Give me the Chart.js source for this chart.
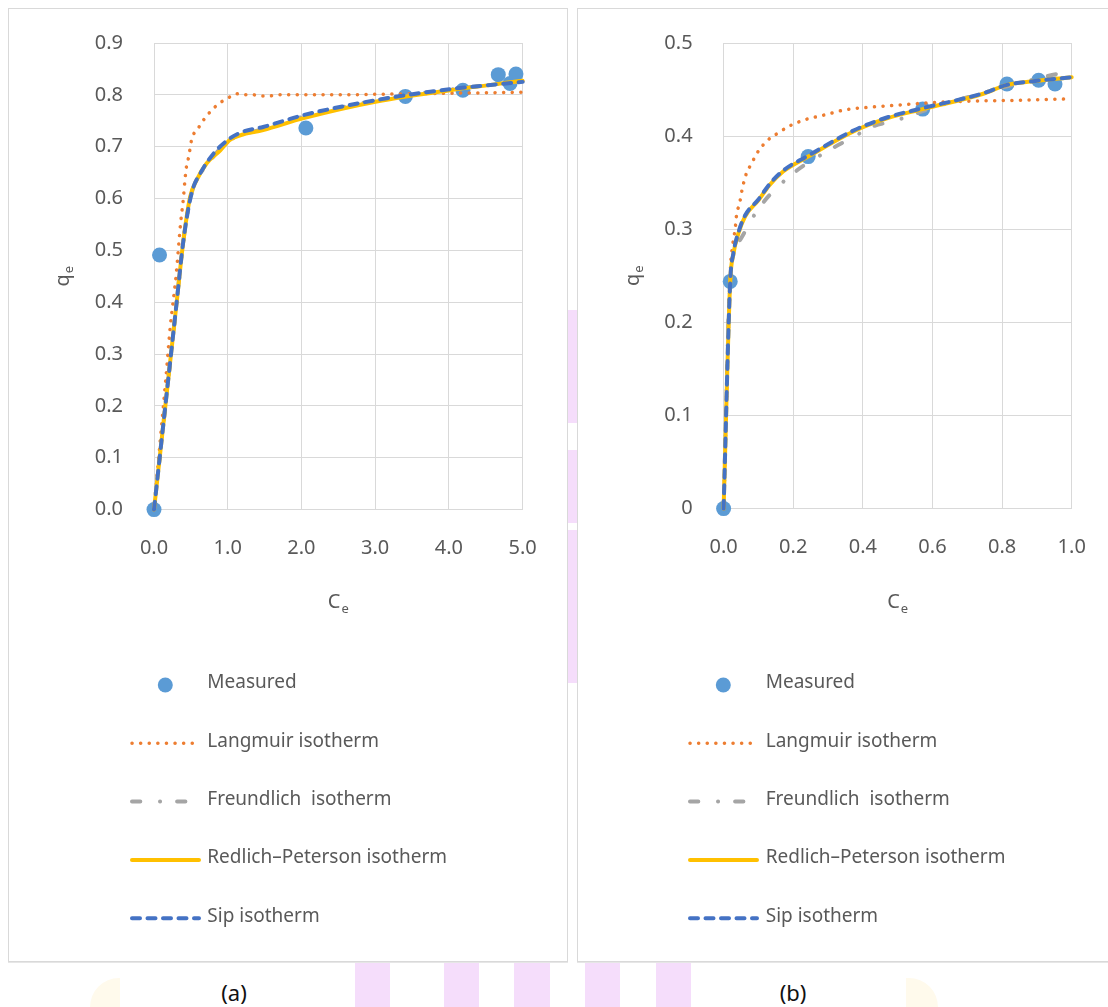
<!DOCTYPE html>
<html><head><meta charset="utf-8">
<script src="https://cdn.jsdelivr.net/npm/chart.js@4.4.1/dist/chart.umd.min.js"></script>
<style>
html,body{margin:0;padding:0;background:#fff;width:1108px;height:1007px;overflow:hidden;position:relative;font-family:"Noto Sans",sans-serif;}
.wm{position:absolute;background:#f5ddfb;}
.wy{position:absolute;background:#fffaec;}
.panel{position:absolute;top:8px;width:558px;height:952px;border:1px solid #d9d9d9;background:#fff;box-shadow:0 1px 0 #e6e6e6;}
.panel canvas{display:block;}
.cap{position:absolute;top:977px;font-size:22px;color:#111;width:60px;text-align:center;line-height:30px;}
</style></head><body>
<div class="wm" style="left:567px;top:310px;width:10px;height:113px"></div>
<div class="wm" style="left:567px;top:450px;width:10px;height:73px"></div>
<div class="wm" style="left:567px;top:530px;width:10px;height:153px"></div>
<div class="wm" style="left:355px;top:961px;width:35px;height:46px"></div>
<div class="wm" style="left:444px;top:961px;width:35px;height:46px"></div>
<div class="wm" style="left:514px;top:961px;width:36px;height:46px"></div>
<div class="wm" style="left:585px;top:961px;width:35px;height:46px"></div>
<div class="wm" style="left:656px;top:961px;width:35px;height:46px"></div>
<div class="wy" style="left:90px;top:978px;width:30px;height:29px;border-top-left-radius:30px"></div>
<div class="wy" style="left:906px;top:978px;width:32px;height:29px;border-top-right-radius:30px"></div>
<div class="panel" style="left:8px"><canvas id="ca" width="558" height="952"></canvas></div>
<div class="panel" style="left:577px"><canvas id="cb" width="558" height="952"></canvas></div>
<div class="cap" style="left:204px">(a)</div>
<div class="cap" style="left:763px">(b)</div>
<script>
// ---------- series names ----------
const seriesNames = ['Measured', 'Langmuir isotherm', 'Freundlich  isotherm', 'Redlich\u2013Peterson isotherm', 'Sip isotherm'];

// ---------- panel (a) ----------
const measuredCeA = [0, 0.075, 2.06, 3.41, 4.19, 4.67, 4.83, 4.91];
const measuredQeA = [0, 0.491, 0.736, 0.797, 0.809, 0.839, 0.822, 0.840];

const langmuirCeA = [0, 0.08, 0.16, 0.22, 0.30, 0.36, 0.40, 0.42, 0.44, 0.47, 0.51, 0.61, 0.68, 0.76, 0.83, 0.92, 1.03, 1.12, 1.24, 1.35, 1.46, 1.57, 1.69, 2.0, 2.5, 3.0, 3.5, 4.0, 4.5, 5.0];
const langmuirQeA = [0, 0.126, 0.252, 0.352, 0.452, 0.551, 0.603, 0.636, 0.661, 0.680, 0.713, 0.738, 0.753, 0.767, 0.777, 0.787, 0.796, 0.802, 0.800, 0.800, 0.798, 0.798, 0.800, 0.800, 0.800, 0.801, 0.802, 0.803, 0.804, 0.805];

const freundlichCeA = [0, 0.1, 0.2, 0.3, 0.4, 0.5, 0.6, 0.8, 1.0, 1.5, 2.0, 3.0, 4.0, 5.0];
const freundlichQeA = [0, 0.13, 0.26, 0.39, 0.52, 0.605, 0.64, 0.68, 0.71, 0.735, 0.757, 0.789, 0.810, 0.826];

const redlichCeA = [0, 0.1, 0.2, 0.3, 0.4, 0.49, 0.58, 0.715, 0.90, 1.03, 1.17, 1.48, 2.03, 3.02, 4.02, 5.0];
const redlichQeA = [0, 0.13, 0.26, 0.39, 0.52, 0.603, 0.636, 0.668, 0.693, 0.713, 0.722, 0.732, 0.755, 0.787, 0.809, 0.827];

const sipCeA = [0, 0.1, 0.2, 0.3, 0.4, 0.51, 0.63, 0.81, 1.03, 1.21, 1.48, 2.03, 3.02, 4.02, 5.0];
const sipQeA = [0, 0.13, 0.26, 0.39, 0.52, 0.61, 0.649, 0.687, 0.716, 0.729, 0.738, 0.761, 0.790, 0.811, 0.825];

const xTickValuesA = [0, 1, 2, 3, 4, 5];
const xTickLabelsA = ['0.0', '1.0', '2.0', '3.0', '4.0', '5.0'];
const yTickValuesA = [0, 0.1, 0.2, 0.3, 0.4, 0.5, 0.6, 0.7, 0.8, 0.9];
const yTickLabelsA = ['0.0', '0.1', '0.2', '0.3', '0.4', '0.5', '0.6', '0.7', '0.8', '0.9'];

// ---------- panel (b) ----------
const measuredCeB = [0, 0.019, 0.243, 0.572, 0.814, 0.905, 0.952];
const measuredQeB = [0, 0.244, 0.378, 0.429, 0.456, 0.460, 0.456];

const langmuirCeB = [0, 0.02, 0.025, 0.033, 0.038, 0.045, 0.054, 0.066, 0.078, 0.10, 0.128, 0.153, 0.19, 0.237, 0.282, 0.354, 0.42, 0.497, 0.593, 0.698, 0.823, 1.0];
const langmuirQeB = [0, 0.26, 0.28, 0.30, 0.3175, 0.326, 0.344, 0.3605, 0.369, 0.384, 0.396, 0.4025, 0.411, 0.418, 0.422, 0.4286, 0.431, 0.4332, 0.4358, 0.4375, 0.4383, 0.440];

const freundlichCeB = [0, 0.019, 0.05, 0.10, 0.19, 0.306, 0.368, 0.43, 0.4875, 0.60, 0.851, 0.976, 1.0];
const freundlichQeB = [0, 0.245, 0.29, 0.322, 0.357, 0.3856, 0.398, 0.4106, 0.416, 0.4304, 0.457, 0.468, 0.469];

const redlichCeB = [0, 0.019, 0.028, 0.042, 0.062, 0.10, 0.131, 0.171, 0.243, 0.373, 0.469, 0.572, 0.746, 0.814, 0.89, 1.0];
const redlichQeB = [0, 0.244, 0.273, 0.295, 0.314, 0.331, 0.347, 0.362, 0.378, 0.405, 0.419, 0.429, 0.4455, 0.455, 0.459, 0.4633];

const sipCeB = [0, 0.019, 0.028, 0.042, 0.062, 0.10, 0.131, 0.171, 0.243, 0.373, 0.469, 0.572, 0.746, 0.814, 0.89, 1.0];
const sipQeB = [0, 0.244, 0.274, 0.296, 0.315, 0.332, 0.348, 0.363, 0.379, 0.406, 0.420, 0.430, 0.446, 0.455, 0.459, 0.4633];

const xTickValuesB = [0, 0.2, 0.4, 0.6, 0.8, 1.0];
const xTickLabelsB = ['0.0', '0.2', '0.4', '0.6', '0.8', '1.0'];
const yTickValuesB = [0, 0.1, 0.2, 0.3, 0.4, 0.5];
const yTickLabelsB = ['0', '0.1', '0.2', '0.3', '0.4', '0.5'];

// ---------- styling ----------
const GRID = '#d9d9d9';
const TXT = '#595959';
const FONT = '"Noto Sans", sans-serif';

function pts(xs, ys) { return xs.map((x, i) => ({ x: x, y: ys[i] })); }

function buildDatasets(m, l, f, r, s) {
  return [
    { label: seriesNames[0], data: pts(m[0], m[1]), showLine: false, pointRadius: 7.5, pointHoverRadius: 7.5,
      backgroundColor: '#5b9bd5', borderWidth: 0, pointBorderWidth: 0, order: 5, clip: false },
    { label: seriesNames[1], data: pts(l[0], l[1]), showLine: true, pointRadius: 0, borderColor: '#ed7d31',
      borderWidth: 3.5, borderDash: [0.1, 8.5], borderCapStyle: 'round', cubicInterpolationMode: 'monotone', order: 4, clip: false },
    { label: seriesNames[2], data: pts(f[0], f[1]), showLine: true, pointRadius: 0, borderColor: '#a5a5a5',
      borderWidth: 4, borderDash: [8.3, 19.7, 0.1, 17], borderCapStyle: 'round', cubicInterpolationMode: 'monotone', order: 3, clip: false },
    { label: seriesNames[3], data: pts(r[0], r[1]), showLine: true, pointRadius: 0, borderColor: '#ffc000',
      borderWidth: 4, borderCapStyle: 'round', cubicInterpolationMode: 'monotone', order: 2, clip: false },
    { label: seriesNames[4], data: pts(s[0], s[1]), showLine: true, pointRadius: 0, borderColor: '#4472c4',
      borderWidth: 4, borderDash: [8, 7.5], borderCapStyle: 'round', cubicInterpolationMode: 'monotone', order: 1, clip: false }
  ];
}

const decorPlugin = {
  id: 'decor',
  afterDraw(chart, args, o) {
    const ctx = chart.ctx, ca = chart.chartArea;
    const big = '20px ' + FONT, small = '13px ' + FONT;
    ctx.save();
    ctx.fillStyle = TXT;
    ctx.textBaseline = 'middle';
    ctx.textAlign = 'left';
    // x title  C_e
    ctx.font = big; const wC = ctx.measureText('C').width;
    ctx.font = small; const we = ctx.measureText('e').width;
    let sx = (ca.left + ca.right) / 2 - (wC + we + 1) / 2;
    const cy = ca.bottom + o.xTitleOffset;
    ctx.font = big; ctx.fillText('C', sx, cy);
    ctx.font = small; ctx.fillText('e', sx + wC + 1, cy + 7);
    // y title  q_e (rotated)
    ctx.save();
    ctx.translate(ca.left - o.yTitleOffset, (ca.top + ca.bottom) / 2);
    ctx.rotate(-Math.PI / 2);
    ctx.font = big; const wq = ctx.measureText('q').width;
    sx = -(wq + we + 1) / 2;
    ctx.fillText('q', sx, 0);
    ctx.font = small; ctx.fillText('e', sx + wq + 1, 6);
    ctx.restore();
    // legend (vertical list)
    chart.data.datasets.forEach((ds, i) => {
      const y = o.legendTop + i * o.legendGap;
      ctx.save();
      if (ds.showLine === false) {
        ctx.beginPath();
        ctx.arc(o.markerX, y, ds.pointRadius, 0, Math.PI * 2);
        ctx.fillStyle = ds.backgroundColor;
        ctx.fill();
      } else {
        ctx.beginPath();
        ctx.setLineDash(ds.borderDash || []);
        ctx.lineCap = ds.borderCapStyle || 'butt';
        ctx.lineWidth = ds.borderWidth;
        ctx.strokeStyle = ds.borderColor;
        ctx.moveTo(o.lineX0, y);
        ctx.lineTo(o.lineX1, y);
        ctx.stroke();
      }
      ctx.restore();
      ctx.fillStyle = TXT;
      ctx.font = '19px ' + FONT;
      ctx.textBaseline = 'middle';
      ctx.textAlign = 'left';
      ctx.fillText(ds.label, o.textX, y - 2);
    });
    ctx.restore();
  }
};

function makeChart(id, datasets, xr, yr, lay, deco) {
  return new Chart(document.getElementById(id), {
    type: 'scatter',
    data: { datasets: datasets },
    plugins: [decorPlugin],
    options: {
      responsive: false,
      animation: false,
      layout: { padding: lay.padding },
      plugins: { legend: { display: false }, tooltip: { enabled: false }, decor: deco },
      scales: {
        x: {
          type: 'linear', min: xr.values[0], max: xr.values[xr.values.length - 1],
          afterBuildTicks: (s) => { s.ticks = xr.values.map(v => ({ value: v })); },
          afterFit: (s) => { s.height = 100; s.paddingLeft = 0; s.paddingRight = 0; },
          ticks: { callback: (v, i) => xr.labels[i], color: TXT, font: { size: 20, family: FONT }, padding: 27, maxRotation: 0, autoSkip: false },
          grid: { color: GRID, lineWidth: 1, drawTicks: false },
          border: { color: GRID, width: 1 }
        },
        y: {
          type: 'linear', min: yr.values[0], max: yr.values[yr.values.length - 1],
          afterBuildTicks: (s) => { s.ticks = yr.values.map(v => ({ value: v })); },
          afterFit: (s) => { s.width = lay.yWidth; s.paddingTop = 0; s.paddingBottom = 0; },
          ticks: { callback: (v, i) => yr.labels[i], color: TXT, font: { size: 20, family: FONT }, padding: 31, autoSkip: false },
          grid: { color: GRID, lineWidth: 1, drawTicks: false },
          border: { color: GRID, width: 1 }
        }
      }
    }
  });
}

makeChart('ca',
  buildDatasets([measuredCeA, measuredQeA], [langmuirCeA, langmuirQeA], [freundlichCeA, freundlichQeA], [redlichCeA, redlichQeA], [sipCeA, sipQeA]),
  { values: xTickValuesA, labels: xTickLabelsA },
  { values: yTickValuesA, labels: yTickLabelsA },
  { padding: { left: 0, top: 34, right: 44.4, bottom: 351.4 }, yWidth: 145 },
  { xTitleOffset: 93, yTitleOffset: 91, legendTop: 676, legendGap: 58.3, markerX: 156.3, lineX0: 123, lineX1: 190, textX: 198.3 }
);

makeChart('cb',
  buildDatasets([measuredCeB, measuredQeB], [langmuirCeB, langmuirQeB], [freundlichCeB, freundlichQeB], [redlichCeB, redlichQeB], [sipCeB, sipQeB]),
  { values: xTickValuesB, labels: xTickLabelsB },
  { values: yTickValuesB, labels: yTickLabelsB },
  { padding: { left: 0, top: 34, right: 64.3, bottom: 352.4 }, yWidth: 145.6 },
  { xTitleOffset: 94, yTitleOffset: 90, legendTop: 676, legendGap: 58.3, markerX: 145.3, lineX0: 112, lineX1: 179, textX: 187.7 }
);
</script>
</body></html>
